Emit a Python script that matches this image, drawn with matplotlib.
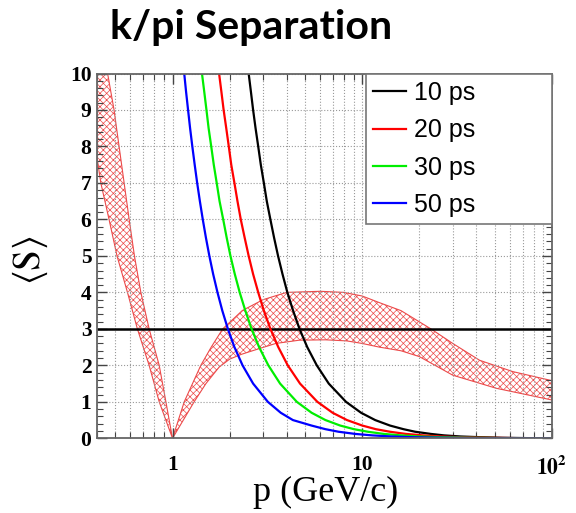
import matplotlib.pyplot as plt
from matplotlib.ticker import FixedLocator, LogLocator, MultipleLocator, NullFormatter

s_levels = [10, 9.5, 9, 8.5, 8, 7.5, 7, 6.5, 6, 5.5, 5, 4.5, 4, 3.5, 3, 2.5, 2, 1.5, 1, 0.7, 0.5,
            0.35, 0.25, 0.18, 0.12, 0.08, 0.05, 0.03, 0.015, 0.005, 0.0]

# momentum (GeV/c) of each TOF curve at those levels
p_10ps = [2.52, 2.59, 2.66, 2.74, 2.83, 2.92, 3.03, 3.14, 3.28, 3.43, 3.60, 3.80, 4.03, 4.32, 4.67,
          5.13, 5.76, 6.66, 8.21, 9.86, 11.7, 14, 16.5, 19, 23, 27, 33, 42, 55, 75, 100]
p_20ps = [1.76, 1.81, 1.86, 1.92, 1.98, 2.04, 2.12, 2.20, 2.29, 2.40, 2.52, 2.66, 2.83, 3.03, 3.28,
          3.61, 4.05, 4.70, 5.80, 6.98, 8.31, 10, 11.8, 14, 17, 21, 26, 33, 45, 65, 100]
p_30ps = [1.43, 1.47, 1.51, 1.55, 1.60, 1.65, 1.71, 1.77, 1.85, 1.93, 2.02, 2.13, 2.26, 2.42, 2.61,
          2.86, 3.20, 3.69, 4.52, 5.41, 6.40, 7.65, 9.05, 10.7, 13, 16, 20, 26, 36, 55, 100]
p_50ps = [1.153, 1.179, 1.208, 1.238, 1.272, 1.309, 1.349, 1.394, 1.444, 1.500, 1.564, 1.638, 1.726, 1.83, 1.958,
          2.12, 2.34, 2.66, 3.18, 3.72, 4.31, 5.4, 6.4, 7.5, 9.2, 11.3, 14.3, 18.5, 26, 45, 100]

# dE/dx band below the crossover (p < 1)
band1_up_p = [1.0, 0.923, 0.851, 0.753, 0.681, 0.63, 0.591, 0.556, 0.523, 0.492, 0.455, 0.4]
band1_up_s = [0, 1, 2, 3, 4, 5, 6, 7, 8, 9, 10, 10]
band1_lo_p = [0.4, 0.419, 0.463, 0.51, 0.579, 0.653, 0.753, 0.851, 1.0]
band1_lo_s = [7.7, 7, 6, 5, 4, 3, 2, 1, 0]

# dE/dx band above the crossover (p > 1)
band2_up_p = [1.0, 1.153, 1.41, 1.6, 1.84, 2.33, 3.0, 4.0, 6.0, 8.0, 10, 12.3, 16, 23, 30, 41.5, 62, 100]
band2_up_s = [0, 1, 2, 2.5, 3, 3.5, 3.8, 4.0, 4.03, 4.0, 3.9, 3.72, 3.5, 3.0, 2.6, 2.14, 1.83, 1.58]
band2_lo_p = [100, 51, 30, 20, 16, 12.3, 10, 8.3, 6.4, 4.66, 3.5, 2.64, 2.3, 2.0, 1.76, 1.5, 1.3, 1.0]
band2_lo_s = [1.05, 1.37, 1.73, 2.24, 2.4, 2.5, 2.6, 2.67, 2.7, 2.69, 2.6, 2.4, 2.3, 2.17, 1.95, 1.5, 1.0, 0]

threshold = 3

plt.rcParams['mathtext.fontset'] = 'stix'
plt.rcParams['hatch.linewidth'] = 0.5

fig = plt.figure(figsize=(5.76, 5.13), dpi=100)
ax = fig.add_axes([0.1684, 0.1456, 0.7899, 0.7111])

band_col = '#ec4a4a'
ax.fill(band1_up_p + band1_lo_p, band1_up_s + band1_lo_s, facecolor='none',
        edgecolor=band_col, hatch='xxxxx', linewidth=0.8)
ax.fill(band2_up_p + band2_lo_p, band2_up_s + band2_lo_s, facecolor='none',
        edgecolor=band_col, hatch='xxxxx', linewidth=0.8)

ax.axhline(threshold, color='black', lw=1.8)

ax.plot(p_10ps, s_levels, color='black', lw=1.6, label='10 ps')
ax.plot(p_20ps, s_levels, color='#ff0000', lw=1.6, label='20 ps')
ax.plot(p_30ps, s_levels, color='#00ee00', lw=1.6, label='30 ps')
ax.plot(p_50ps, s_levels, color='#0000ff', lw=1.6, label='50 ps')

ax.set_xscale('log')
ax.set_xlim(0.4, 100)
ax.set_ylim(0, 10)

# ticks
ax.xaxis.set_major_locator(FixedLocator([1, 10, 100]))
ax.set_xticklabels(['1', '10', r'$\mathbf{10^{2}}$'])
ax.xaxis.set_minor_locator(LogLocator(base=10, subs=range(2, 10)))
ax.xaxis.set_minor_formatter(NullFormatter())
ax.yaxis.set_major_locator(MultipleLocator(1))
ax.yaxis.set_minor_locator(MultipleLocator(0.2))
ax.tick_params(which='both', direction='in', top=True, right=True, color='#444444')
ax.tick_params(which='major', length=7, width=1)
ax.tick_params(which='minor', length=4, width=0.8)
ax.tick_params(axis='x', which='major', pad=12)
ax.tick_params(axis='y', which='major', pad=4)
for lab in ax.get_xticklabels() + ax.get_yticklabels():
    lab.set_family('Liberation Serif')
    lab.set_fontweight('bold')
    lab.set_fontsize(15.5)

ax.grid(which='major', axis='both', linestyle=':', color='#999999', lw=0.8)
ax.grid(which='minor', axis='x', linestyle=':', color='#999999', lw=0.8)
for sp in ax.spines.values():
    sp.set_color('#666666')
    sp.set_linewidth(1.3)

leg = ax.legend(loc='upper left', bbox_to_anchor=(0.591, 0, 0.409, 1), mode='expand',
                borderaxespad=0, fancybox=False, edgecolor='#777777', framealpha=1,
                prop={'family': 'Liberation Sans', 'size': 18},
                handlelength=1.3, handletextpad=0.32, labelspacing=0.53, borderpad=0.3)
leg.get_frame().set_linewidth(1.2)

fig.text(326 / 576, 1 - 492 / 513, 'p (GeV/c)', ha='center', va='center',
         family='Liberation Serif', fontsize=26)
fig.text(30 / 576, 1 - 260 / 513, r'$\langle \mathrm{S} \rangle$', rotation=90,
         ha='center', va='center', fontsize=27)

fig.text(251 / 576, 1 - 28 / 513, 'k/pi Separation', ha='center', va='center',
         fontsize=29.5, fontweight='bold', family='Lato')

fig.savefig('out.png', dpi=100)
